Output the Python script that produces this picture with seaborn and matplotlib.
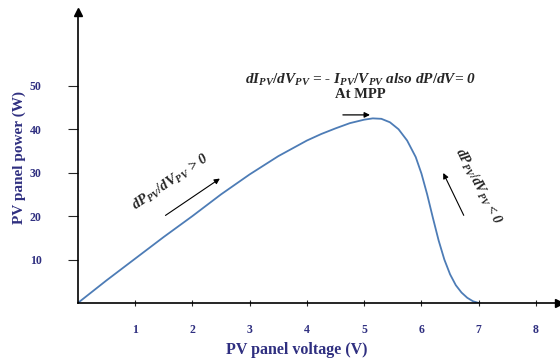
import numpy as np
import seaborn as sns
from matplotlib import pyplot as plt

# P-V curve of the panel
voltage = [0, 0.5, 1, 1.5, 2, 2.5, 3, 3.5, 4, 4.25, 4.5, 4.75, 5.0, 5.15, 5.3,
           5.45, 5.6, 5.75, 5.9, 6.0, 6.1, 6.2, 6.3, 6.4, 6.5, 6.6, 6.7, 6.8,
           6.9, 7.0]
power = [0, 5.2, 10.2, 15.2, 20, 25, 29.6, 33.8, 37.4, 38.9, 40.2, 41.4, 42.2,
         42.5, 42.4, 41.6, 40.0, 37.4, 33.6, 29.8, 25.0, 19.6, 14.4, 10.0, 6.6,
         4.1, 2.4, 1.2, 0.4, 0]
x_ticks = [1, 2, 3, 4, 5, 6, 7, 8]
y_ticks = [10, 20, 30, 40, 50]

sns.set_style('white')
plt.rcParams['font.family'] = ['Liberation Serif', 'DejaVu Serif']
plt.rcParams['mathtext.fontset'] = 'custom'
plt.rcParams['mathtext.rm'] = 'Liberation Serif:bold'
plt.rcParams['mathtext.it'] = 'Liberation Serif:italic:bold'

navy = '#2f2f80'
fig = plt.figure(figsize=(5.6, 3.62), dpi=100)
ax = fig.add_axes([0.139, 0.163, 0.859, 0.804])

sns.lineplot(x=voltage, y=power, ax=ax, color='#4d7cb6', linewidth=1.3)

ax.set_xlim(0, 8.4)
ax.set_ylim(0, 67)
ax.spines[['top', 'right']].set_visible(False)
for s in ['left', 'bottom']:
    ax.spines[s].set_linewidth(1.2)
    ax.spines[s].set_color('black')
ax.plot(1, 0, '>k', markersize=6, transform=ax.get_yaxis_transform(), clip_on=False)
ax.plot(0, 1, '^k', markersize=6, transform=ax.get_xaxis_transform(), clip_on=False)

ax.set_xticks(x_ticks)
ax.set_yticks(y_ticks)
ax.tick_params(axis='x', direction='inout', length=4, width=0.8, pad=13,
               labelsize=8.5, labelcolor=navy, bottom=True)
ax.tick_params(axis='y', direction='out', length=7, width=0.8, pad=19,
               labelsize=8.5, labelcolor=navy, left=True)
for lab in ax.get_xticklabels() + ax.get_yticklabels():
    lab.set_fontweight('bold')

ax.set_xlabel('PV panel voltage (V)', fontsize=11.5, fontweight='bold', color=navy)
ax.set_ylabel('PV panel power (W)', fontsize=11, fontweight='bold', color=navy)
ax.xaxis.set_label_coords(0.455, -0.135)
ax.yaxis.set_label_coords(-0.108, 0.5)

# annotations
ax.text(4.93, 51.4, r'$dI_{PV}/dV_{PV}$ = - $I_{PV}/V_{PV}$ also $dP/dV$= 0',
        fontsize=11, fontweight='bold', fontstyle='italic', ha='center', va='center')
ax.text(4.93, 47.9, 'At MPP', fontsize=10.5, fontweight='bold', ha='center', va='center')
ax.annotate('', xy=(5.15, 43.3), xytext=(4.58, 43.3),
            arrowprops=dict(arrowstyle='-|>', color='black', lw=0.9, mutation_scale=8))

ax.text(1.62, 27.8, r'dP$_{PV}/dV_{PV}$ > 0', fontsize=10.5, fontweight='bold',
        fontstyle='italic', rotation=34, ha='center', va='center')
ax.annotate('', xy=(2.52, 29.0), xytext=(1.49, 19.8),
            arrowprops=dict(arrowstyle='-|>', color='black', lw=0.8, mutation_scale=8))

ax.text(6.99, 26.7, r'$dP_{PV}/dV_{PV}$ < 0', fontsize=10, fontweight='bold',
        fontstyle='italic', rotation=-62, ha='center', va='center')
ax.annotate('', xy=(6.36, 30.5), xytext=(6.76, 19.6),
            arrowprops=dict(arrowstyle='-|>', color='black', lw=0.8, mutation_scale=8))

fig.savefig('out.png', dpi=100)
